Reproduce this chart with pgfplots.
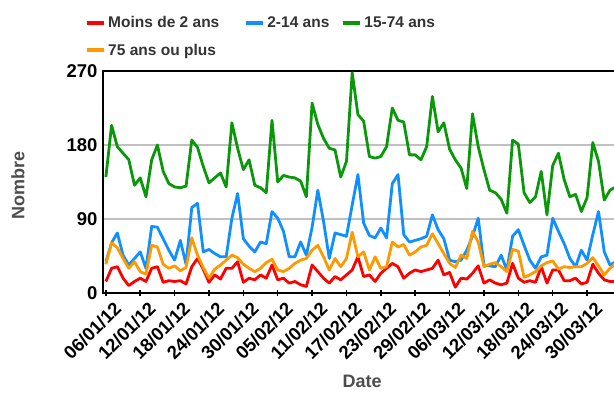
\documentclass[border=0pt]{standalone}
\usepackage{fontspec}
\setmainfont{Liberation Sans}
\usepackage{pgfplots}
\usepackage{pgfplotstable}
\pgfplotsset{compat=1.18}
\definecolor{cred}{RGB}{255,0,0}
\definecolor{cblue}{RGB}{16,144,255}
\definecolor{cgreen}{RGB}{10,152,10}
\definecolor{corange}{RGB}{255,153,0}
\definecolor{cgrid}{RGB}{192,192,192}
\definecolor{clabel}{RGB}{77,77,77}
\definecolor{clegend}{RGB}{51,51,51}

\pgfplotstableread{
d r b g o
0 14 38 141 35
1 30 61 204 61
2 32 73 178 55
3 18 46 170 42
4 9 34 162 30
5 14 42 131 38
6 18 50 140 26
7 14 30 117 23
8 30 81 162 58
9 32 80 180 56
10 13 66 148 35
11 15 52 133 30
12 14 40 129 33
13 15 64 128 27
14 11 35 130 31
15 32 104 186 67
16 42 109 177 46
17 29 50 154 31
18 13 53 134 18
19 22 48 140 29
20 17 44 146 34
21 30 44 129 40
22 30 91 207 46
23 38 121 176 43
24 13 66 150 35
25 18 57 162 30
26 16 50 131 26
27 22 62 128 30
28 18 60 122 37
29 34 99 210 41
30 16 91 135 28
31 18 75 143 26
32 12 44 141 30
33 14 44 140 36
34 10 62 136 40
35 8 46 117 42
36 34 80 231 52
37 26 125 205 58
38 18 87 188 44
39 12 42 176 28
40 20 73 174 42
41 16 71 141 32
42 22 69 160 42
43 28 107 268 74
44 44 144 217 44
45 20 85 209 50
46 22 70 166 28
47 14 67 164 44
48 24 79 166 30
49 30 67 178 32
50 36 133 225 62
51 32 144 210 56
52 18 71 208 59
53 24 62 168 46
54 28 64 168 50
55 26 66 162 56
56 28 69 178 58
57 30 95 239 72
58 40 77 196 60
59 22 66 207 48
60 25 40 175 36
61 7 38 162 31
62 18 40 152 46
63 17 52 127 42
64 24 69 218 75
65 33 91 178 62
66 12 34 150 32
67 16 33 125 35
68 12 32 122 37
69 10 46 114 32
70 12 28 97 26
71 36 69 186 53
72 18 77 181 51
73 13 58 122 19
74 15 40 110 22
75 13 30 117 26
76 32 44 148 33
77 12 46 95 37
78 28 91 155 39
79 28 75 170 29
80 15 60 138 32
81 15 42 117 31
82 18 32 120 32
83 11 52 99 32
84 13 40 116 36
85 35 71 183 43
86 24 99 160 33
87 16 50 113 22
88 14 34 125 30
89 14 38 129 36
}\data

\begin{document}
\begin{tikzpicture}
\path[use as bounding box] (0,0) rectangle (614pt,415pt);
\begin{axis}[
  at={(103pt,122pt)}, anchor=south west,
  scale only axis, width=513pt, height=222pt,
  xmin=-0.5, xmax=89.05, ymin=0, ymax=270,
  axis line style={line width=1.8pt, black},
  xtick={0,6,...,84},
  xticklabels={06/01/12,12/01/12,18/01/12,24/01/12,30/01/12,05/02/12,11/02/12,17/02/12,23/02/12,29/02/12,06/03/12,12/03/12,18/03/12,24/03/12,30/03/12},
  ytick={0,90,180,270},
  ymajorgrids, grid style={cgrid, line width=2pt},
  xtick pos=bottom, ytick pos=left,
  xtick align=center, major tick length=6pt,
  xtick style={black, line width=1.5pt},
  ytick style={draw=none},
  tick label style={font=\bfseries\fontsize{18.5}{21}\selectfont, text=black},
  /pgf/number format/assume math mode=true,
  xticklabel style={rotate=45, anchor=north east, inner sep=1pt, xshift=3pt, yshift=-7pt},
  yticklabel style={xshift=-2pt},
  xlabel={Date}, ylabel={Nombre},
  xlabel style={at={(axis description cs:0.505,-0.396)}, anchor=center, font=\bfseries\fontsize{18}{21}\selectfont, text=clabel},
  ylabel style={at={(axis description cs:-0.166,0.486)}, anchor=center, font=\bfseries\fontsize{18}{21}\selectfont, text=clabel},
  legend columns=3,
  legend image code/.code={\draw[#1, line width=4pt] (0pt,0pt) -- (17pt,0pt);},
  legend style={at={(axis description cs:-0.035,1.256)}, anchor=north west, draw=none, fill=none,
    font=\bfseries\fontsize{15.5}{18}\selectfont, text=clegend, inner sep=0pt, row sep=11pt,
    /tikz/column 2/.style={column sep=23pt},
    /tikz/column 4/.style={column sep=10pt}},
  legend cell align=left,
  every axis plot/.append style={line width=2.8pt, line join=round, no markers},
]
\addplot[cred] table[x=d, y=r] {\data};
\addlegendentry{Moins de 2 ans}
\addplot[cblue] table[x=d, y=b] {\data};
\addlegendentry{2-14 ans}
\addplot[cgreen] table[x=d, y=g] {\data};
\addlegendentry{15-74 ans}
\addplot[corange] table[x=d, y=o] {\data};
\addlegendentry{75 ans ou plus}
\end{axis}
\end{tikzpicture}
\end{document}
